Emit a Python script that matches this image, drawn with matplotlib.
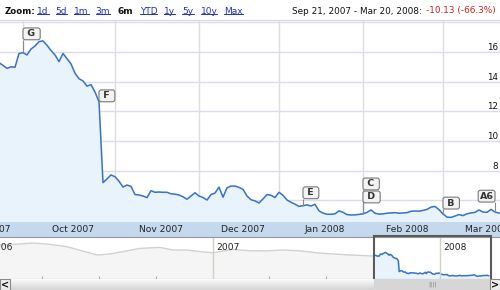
import numpy as np
import matplotlib
matplotlib.use('Agg')
import matplotlib.pyplot as plt
import matplotlib.transforms as mtransforms
from matplotlib.patches import Rectangle
from matplotlib.lines import Line2D
from matplotlib.colors import LinearSegmentedColormap

# daily closes, one per trading day, Sep 21 2007 .. Mar 20 2008
prices = [15.28, 15.1, 14.9, 15.0, 14.97, 15.9, 15.95, 15.8, 16.2, 16.4,
          16.7, 16.75, 16.45, 16.1, 15.8, 15.35, 15.9, 15.55, 15.2, 14.57,
          14.2, 14.05, 13.7, 13.8, 13.3, 12.65, 7.2, 7.45, 7.72, 7.6,
          7.3, 6.9, 7.04, 6.95, 6.4, 6.37, 6.3, 6.19, 6.66, 6.55,
          6.57, 6.55, 6.55, 6.45, 6.42, 6.37, 6.25, 6.08, 6.3, 6.52,
          6.3, 6.2, 6.03, 6.4, 6.5, 6.9, 6.22, 6.85, 6.97, 6.97,
          6.88, 6.75, 6.3, 6.05, 5.97, 5.83, 6.1, 6.4, 6.35, 6.2,
          6.55, 6.35, 6.03, 5.88, 5.75, 5.6, 5.65, 5.7, 5.63, 5.74,
          5.3, 5.15, 5.07, 5.07, 5.1, 5.3, 5.2, 5.05, 5.02, 5.03,
          5.06, 5.1, 5.2, 5.36, 5.14, 5.08, 5.1, 5.14, 5.16, 5.18,
          5.14, 5.16, 5.18, 5.27, 5.29, 5.28, 5.33, 5.4, 5.55, 5.6,
          5.38, 5.09, 4.88, 4.86, 4.95, 5.05, 4.98, 5.1, 5.16, 5.2,
          5.36, 5.22, 5.2, 5.4, 5.22, 5.15]

month_starts = [6, 29, 50, 70, 91, 111]   # first trading day of each month
month_names = ['Sep 2007', 'Oct 2007', 'Nov 2007', 'Dec 2007',
               'Jan 2008', 'Feb 2008', 'Mar 2008']
month_mid = [-2.5, 18.5, 40.5, 61, 81.5, 102, 122]
price_ticks = [6, 8, 10, 12, 14, 16, 18]

flag_labels = ['G', 'F', 'E', 'D', 'C', 'B', 'A6']
flag_days = [6, 25, 76, 91, 91, 111, 124]

# overview strip: trading days counted from first day of 2007
hist_days = [-236, -214, -199, -184, -162, -128, -114, -95, -81, -59, -44, -29,
             -14, 0, 22, 41, 60, 77, 96, 115, 133, 152, 177]
hist_prices = [20.5, 21.0, 21.5, 21.0, 19.7, 15.5, 16.0, 17.6, 18.8, 19.3, 18.0, 18.0,
               17.2, 16.6, 18.3, 17.6, 17.6, 18.0, 17.6, 16.6, 16.0, 15.5, 15.0]
window_start = 180
year_days = [-251, 0, 251]
year_names = ['2006', '2007', '2008']
quarter_days = [-189, -126, -63, 62, 125]

zoom_links = ['1d', '5d', '1m', '3m', '6m', 'YTD', '1y', '5y', '10y', 'Max']
range_text = 'Sep 21, 2007 - Mar 20, 2008:'

W, H = 500, 290
BLUE = '#3873c6'
FILL = '#e9f3fc'

fig = plt.figure(figsize=(W / 100, H / 100), dpi=100)
fig.patch.set_facecolor('white')


def band(top, bottom):
    return [0, 1 - bottom / H, 1, (bottom - top) / H]


# ---- main chart
ax = fig.add_axes(band(20, 222))
ax.set_axis_off()
x = np.arange(len(prices))
ax.set_xlim(0.25, 125.25)
ax.set_ylim(4.55, 18.155)
for v in price_ticks:
    ax.axhline(v, color='#dcdcee', lw=1.0, zorder=1)
    if v > 6:
        ax.text(124.75, v, str(v), ha='right', va='bottom', fontsize=6.3,
                color='#111', clip_on=True, zorder=6)
for m in month_starts:
    ax.axvline(m, color='#dedede', lw=1.0, zorder=1)
ax.vlines(month_starts, 0, 0.022, transform=ax.get_xaxis_transform(),
          color='#999999', lw=1.0, zorder=2)
ax.fill_between(x, prices, 4.55, color=FILL, zorder=2)
ax.plot(x, prices, color=BLUE, lw=1.1, zorder=3)
fig.add_artist(Line2D([0, 1], [1 - 20 / H] * 2, color='#d8d8e4', lw=0.8))

# event flags
px_per_unit = (222 - 20) / (18.155 - 4.55)
flag_rise = [13, 0, 7, 11, 24, 5, 10]
for lab, d, rise in zip(flag_labels, flag_days, flag_rise):
    p = prices[d]
    top = p + rise / px_per_unit
    ax.vlines(d, p, top, color='#8a8a8a', lw=0.8, zorder=4)
    left_side = lab.startswith('A')
    tr = mtransforms.offset_copy(ax.transData, fig=fig, x=-1.4 if left_side else 1.4,
                                 y=1.4, units='dots')
    txt = lab if left_side else ' %s ' % lab
    ax.text(d, top, txt, transform=tr, ha='right' if left_side else 'left',
            va='bottom', fontsize=6.8, fontweight='bold', color='#333',
            bbox=dict(boxstyle='round,pad=0.15,rounding_size=0.25', fc='#f3f3f3',
                      ec='#7a7a7a', lw=0.8), zorder=7)

# ---- month band
bx = fig.add_axes(band(222, 237))
bx.set_xlim(ax.get_xlim())
bx.set_ylim(0, 1)
bx.set_facecolor('#c4d8ee')
bx.set_xticks([])
bx.set_yticks([])
for s in bx.spines.values():
    s.set_visible(False)
for m, name in zip(month_mid, month_names):
    bx.text(m, 0.5, name, ha='center', va='center', fontsize=6.6, color='#222')

# ---- overview strip
ov = fig.add_axes(band(237, 279))
ov.set_xlim(-235.6, 317.5)
ov.set_ylim(3.5, 24.5)
ov.set_xticks([])
ov.set_yticks([])
for k in ['left', 'right']:
    ov.spines[k].set_visible(False)
for k in ['top', 'bottom']:
    ov.spines[k].set_color('#999999')
    ov.spines[k].set_linewidth(0.8)
ov.fill_between(hist_days, hist_prices, 3.5, color='#f5f5f5')
ov.plot(hist_days, hist_prices, color='#d2d2d2', lw=1.0)
wx = window_start + x
ov.fill_between(wx, prices, 3.5, color=FILL)
ov.plot(wx, prices, color=BLUE, lw=1.1)
for d, name in zip(year_days, year_names):
    ov.axvline(d, color='#c9d6c4', lw=1.0)
    ov.text(d + 3.5, 19.0, name, ha='left', va='center', fontsize=6.6, color='#222')
ov.vlines(quarter_days, 3.5, 5.0, color='#aaaaaa', lw=0.8)
ov.add_patch(Rectangle((window_start - 1.5, -2.0), len(prices) + 2.5, 27.0, fill=False,
                       ec='#5a5a5a', lw=1.5, clip_on=False, zorder=10))

# ---- scrollbar
sb = fig.add_axes(band(279, 290))
sb.set_xlim(ov.get_xlim())
sb.set_ylim(0, 1)
sb.set_axis_off()
grad = LinearSegmentedColormap.from_list('g', ['#fbfbfb', '#d4d4d4'])
sb.imshow(np.linspace(0, 1, 20).reshape(-1, 1), cmap=grad, aspect='auto',
          extent=[ov.get_xlim()[0], ov.get_xlim()[1], 0, 1], zorder=0)
sb.add_patch(Rectangle((window_start - 1.5, 0), len(prices) + 2.5, 1, fc='#d6d6d6',
                       ec='none', zorder=1))
sb.text(window_start + len(prices) / 2, 0.5, '||||', ha='center', va='center',
        fontsize=4.5, color='#8a8a8a')
for x0, sym in [(0.0, '<'), (0.98, '>')]:
    sb.add_patch(Rectangle((x0, 0), 0.02, 1, transform=sb.transAxes, fc='#eeeeee',
                           ec='#888888', lw=0.8, zorder=2))
    sb.text(x0 + 0.01, 0.45, sym, transform=sb.transAxes, ha='center', va='center',
            fontsize=7, fontweight='bold', color='#111', zorder=3)

# ---- header
r = fig.canvas.get_renderer()
ty = 1 - 11 / H
fig.text(5 / W, ty, 'Zoom:', fontsize=6.2, fontweight='bold', va='center', color='#111')
xpos = 37
for lab in zoom_links:
    col = '#111111' if lab == '6m' else '#2233bb'
    t = fig.text(xpos / W, ty, lab, fontsize=6.5, color=col, va='center',
                 fontweight='bold' if lab == '6m' else 'normal')
    bb = t.get_window_extent(r)
    if lab != '6m':
        fig.add_artist(Line2D([bb.x0 / W, bb.x1 / W], [(bb.y0 + 1.2) / H] * 2,
                              color=col, lw=0.7))
    xpos = bb.x1 + 7

chg = prices[-1] - prices[0]
pct = chg / prices[0] * 100
t = fig.text(496 / W, ty, '%.2f (%.1f%%)' % (chg, pct), fontsize=6.4, color='#cc2222',
             ha='right', va='center')
bb = t.get_window_extent(r)
fig.text((bb.x0 - 4) / W, ty, range_text, fontsize=6.4, color='#111', ha='right',
         va='center')

fig.savefig('out.png', dpi=100)
